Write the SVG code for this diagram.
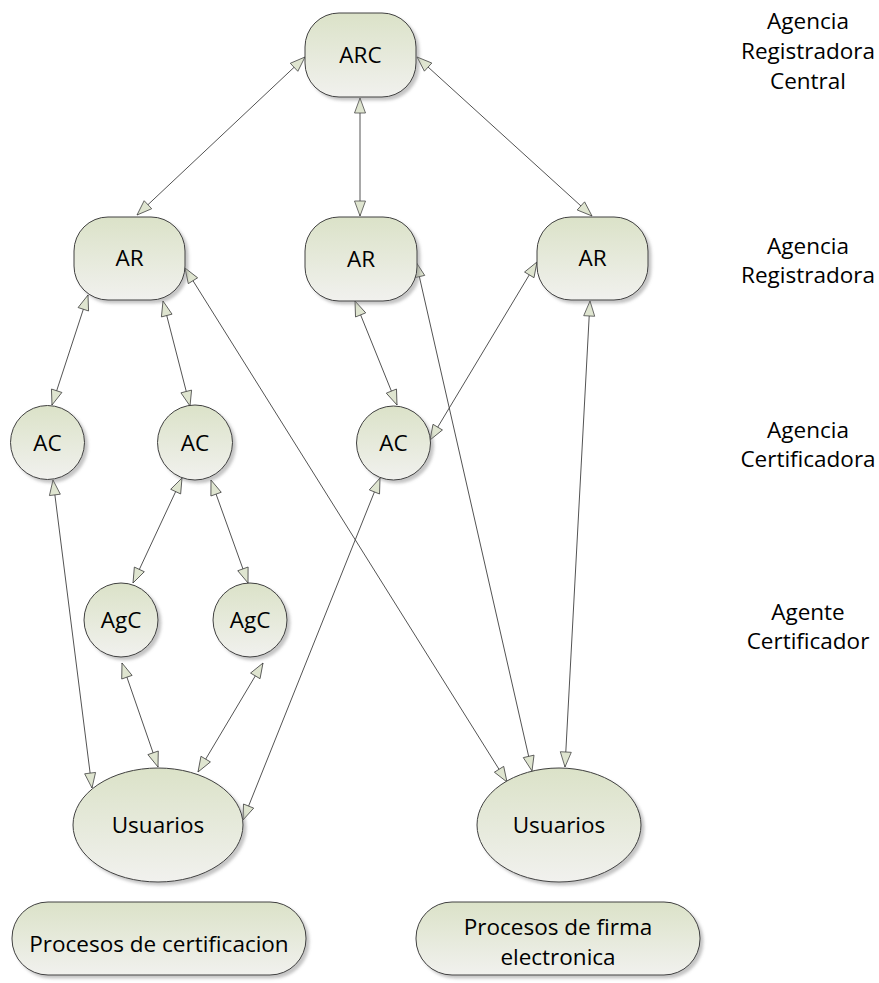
<svg xmlns="http://www.w3.org/2000/svg" width="879" height="983" viewBox="0 0 879 983">
<defs>
<linearGradient id="g" x1="0" y1="0" x2="0" y2="1">
<stop offset="0" stop-color="#dbe2c8"/>
<stop offset="1" stop-color="#f1f1ee"/>
</linearGradient>
<filter id="sh" x="-20%" y="-20%" width="150%" height="150%">
<feDropShadow dx="3" dy="3" stdDeviation="1.5" flood-color="#7f7f7f" flood-opacity="0.45"/>
</filter>
<marker id="a" viewBox="-1 -1 17 13" refX="15" refY="5.5" markerWidth="17" markerHeight="13" markerUnits="userSpaceOnUse" orient="auto-start-reverse">
<path d="M0,0 L15,5.5 L0,11 Z" fill="#dfe5d0" stroke="#404040" stroke-width="0.75"/>
</marker>
<style>
.n{fill:url(#g);stroke:#404040;stroke-width:1;filter:url(#sh)}
.t{font-family:"Open Sans","Noto Sans",sans-serif;font-size:22.5px;fill:#000;text-anchor:middle}
.c line{stroke:#404040;stroke-width:0.9;marker-start:url(#a);marker-end:url(#a)}
</style>
</defs>
<rect width="879" height="983" fill="#fff"/>
<g class="c" id="connectors">
<line x1="305" y1="57" x2="137" y2="215"/>
<line x1="360" y1="98" x2="360" y2="216"/>
<line x1="417" y1="57" x2="592" y2="216"/>
<line x1="88" y1="295" x2="52" y2="405"/>
<line x1="163" y1="301" x2="190" y2="406"/>
<line x1="185" y1="268" x2="507" y2="782"/>
<line x1="355" y1="301" x2="397" y2="405"/>
<line x1="416" y1="262" x2="532" y2="771"/>
<line x1="537" y1="262" x2="430" y2="440"/>
<line x1="590" y1="301" x2="565" y2="767"/>
<line x1="53" y1="480" x2="92" y2="788"/>
<line x1="182" y1="478" x2="133" y2="583"/>
<line x1="211" y1="480" x2="248" y2="583"/>
<line x1="380" y1="478" x2="243" y2="820"/>
<line x1="122" y1="663" x2="158" y2="767"/>
<line x1="263" y1="663" x2="198" y2="772"/>
</g>
<g id="arc"><rect class="n" x="305" y="13" width="111" height="84" rx="34" ry="34"/><text class="t" x="360.5" y="63">ARC</text></g>
<g id="ar1"><rect class="n" x="74" y="217" width="111" height="83" rx="34" ry="34"/><text class="t" x="129.5" y="266">AR</text></g>
<g id="ar2"><rect class="n" x="305" y="217" width="112" height="84" rx="34" ry="34"/><text class="t" x="361" y="267">AR</text></g>
<g id="ar3"><rect class="n" x="537" y="217" width="111" height="83" rx="34" ry="34"/><text class="t" x="592.5" y="266">AR</text></g>
<g id="ac1"><circle class="n" cx="47.5" cy="442.5" r="37"/><text class="t" x="47.5" y="450.5">AC</text></g>
<g id="ac2"><circle class="n" cx="195" cy="442.5" r="37.5"/><text class="t" x="195" y="450.5">AC</text></g>
<g id="ac3"><circle class="n" cx="393.5" cy="443" r="37"/><text class="t" x="393.5" y="451">AC</text></g>
<g id="agc1"><circle class="n" cx="121" cy="620" r="37"/><text class="t" x="121" y="628">AgC</text></g>
<g id="agc2"><circle class="n" cx="250" cy="620" r="37"/><text class="t" x="250" y="628">AgC</text></g>
<g id="usuarios1"><ellipse class="n" cx="158" cy="825" rx="85" ry="57"/><text class="t" x="158" y="833">Usuarios</text></g>
<g id="usuarios2"><ellipse class="n" cx="559" cy="825" rx="82" ry="57"/><text class="t" x="559" y="833">Usuarios</text></g>
<g id="proc1"><rect class="n" x="12" y="902" width="294" height="73" rx="36" ry="36"/><text class="t" x="159" y="952">Procesos de certificacion</text></g>
<g id="proc2"><rect class="n" x="416" y="902" width="284" height="73" rx="36" ry="36"/><text class="t" x="558" y="935">Procesos de firma</text><text class="t" x="558" y="965">electronica</text></g>
<g id="labels">
<text class="t" x="808" y="29">Agencia</text>
<text class="t" x="808" y="59">Registradora</text>
<text class="t" x="808" y="89">Central</text>
<text class="t" x="808" y="254">Agencia</text>
<text class="t" x="808" y="283">Registradora</text>
<text class="t" x="808" y="438">Agencia</text>
<text class="t" x="808" y="467">Certificadora</text>
<text class="t" x="808" y="620">Agente</text>
<text class="t" x="808" y="649">Certificador</text>
</g>
</svg>
